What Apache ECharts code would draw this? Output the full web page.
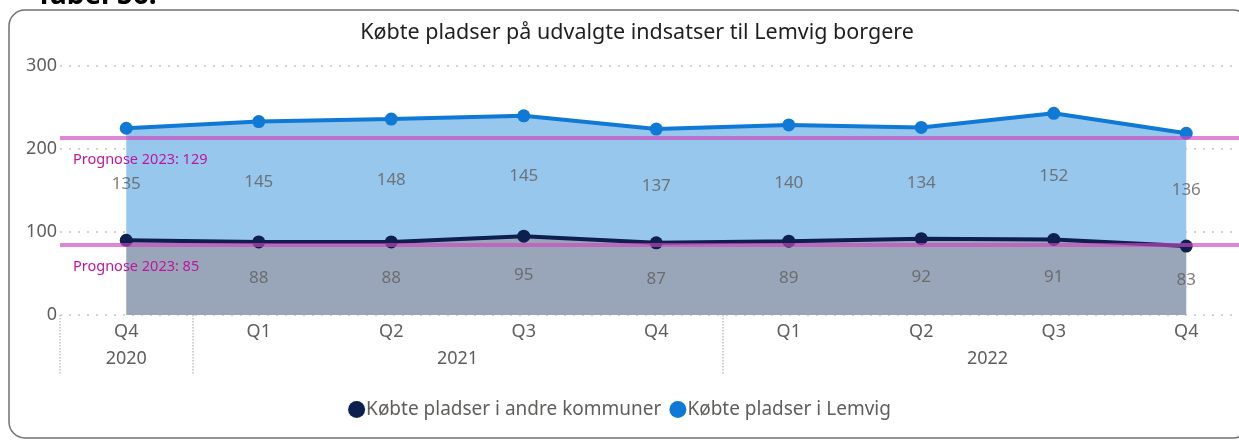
<!DOCTYPE html>
<html>
<head>
<meta charset="utf-8">
<script src="https://cdn.jsdelivr.net/npm/echarts@6/dist/echarts.min.js"></script>
<style>
  html, body { margin: 0; padding: 0; background: #fff; }
  #chart { width: 1239px; height: 441px; }
</style>
</head>
<body>
<div id="chart"></div>
<script>
// kvartaler og år
const quarters = ['Q4', 'Q1', 'Q2', 'Q3', 'Q4', 'Q1', 'Q2', 'Q3', 'Q4'];
const quarterYears = ['2020', '2021', '2021', '2021', '2021', '2022', '2022', '2022', '2022'];
// købte pladser
const andreKommuner = [90, 88, 88, 95, 87, 89, 92, 91, 83];
const lemvig = [135, 145, 148, 145, 137, 140, 134, 152, 136];
// prognoser 2023 (andre kommuner, Lemvig)
const prognose = [85, 129];
const yTicks = [0, 100, 200, 300];

const grey = '#605e5c';
const font = 'Noto Sans';

// year axis works in half-band slots: category i sits at slot 2i+1
const slots = new Array(quarters.length * 2 + 1).fill('');
const sepSlots = [];
quarterYears.forEach((y, i) => {
  if (i === 0 || quarterYears[i - 1] !== y) sepSlots.push(2 * i);
});
quarterYears.forEach((y, i) => {
  if (i === quarterYears.length - 1 || quarterYears[i + 1] !== y) {
    const first = quarterYears.indexOf(y);
    slots[first + i + 1] = y;
  }
});

const cats = quarters.map((q, i) => quarterYears[i] + ' ' + q);
const midAndre = andreKommuner.map((v, i) => [i, v / 2]);
const midLemvig = lemvig.map((v, i) => [i, andreKommuner[i] + v / 2]);

const chart = echarts.init(document.getElementById('chart'));
chart.setOption({
  animation: false,
  title: {
    text: 'Købte pladser på udvalgte indsatser til Lemvig borgere',
    left: 632, top: 17, textAlign: 'center',
    textStyle: { fontFamily: 'Noto Sans', fontSize: 21.5, fontWeight: 'normal', color: '#1f1f1f' }
  },
  graphic: [
    { type: 'rect', shape: { x: 9, y: 10, width: 1240, height: 428, r: 16 },
      style: { fill: 'none', stroke: '#707070', lineWidth: 1.5 }, silent: true },
    { type: 'text', left: 36, top: -18,
      style: { text: 'Tabel 56.', fontFamily: 'Noto Sans', fontSize: 28, fontWeight: 'bold', fill: '#000' } }
  ],
  legend: {
    bottom: 17, left: 'center',
    data: ['Købte pladser i andre kommuner', 'Købte pladser i Lemvig'],
    icon: 'circle', itemWidth: 17, itemHeight: 17, itemGap: 8,
    textStyle: { fontFamily: font, fontSize: 19, color: grey, padding: [0, 0, 0, -4] }
  },
  grid: { left: 60, top: 66, bottom: 126, width: 1192.5, outerBoundsMode: 'none', containLabel: false },
  xAxis: [{
    type: 'category', data: cats, boundaryGap: true,
    axisLine: { show: false }, axisTick: { show: false },
    axisLabel: { interval: 0, margin: 8, fontFamily: font, fontSize: 18, color: grey,
      formatter: v => v.split(' ')[1] }
  }, {
    type: 'category', data: slots, boundaryGap: false, position: 'bottom',
    axisLine: { show: false },
    axisTick: { show: true, length: 60, interval: i => sepSlots.includes(i),
      lineStyle: { type: 'dotted', color: '#c0c0c0', width: 1.5 } },
    axisLabel: { interval: 0, margin: 35, fontFamily: font, fontSize: 18, color: grey }
  }],
  yAxis: {
    type: 'value', min: yTicks[0], max: yTicks[yTicks.length - 1], interval: 100,
    axisLabel: { margin: 3, fontFamily: font, fontSize: 18, color: grey },
    splitLine: { lineStyle: { type: [2, 7], color: '#c4c4c4', width: 1.5 } }
  },
  series: [{
    name: 'Købte pladser i andre kommuner', type: 'line', stack: 'total',
    data: andreKommuner, symbol: 'circle', symbolSize: 13,
    itemStyle: { color: '#0c1f4f' },
    lineStyle: { color: '#0c1f4f', width: 4 },
    areaStyle: { color: '#99a6ba', opacity: 1 },
    z: 3
  }, {
    name: 'Købte pladser i Lemvig', type: 'line', stack: 'total',
    data: lemvig, symbol: 'circle', symbolSize: 13,
    itemStyle: { color: '#1079d6' },
    lineStyle: { color: '#1079d6', width: 4 },
    areaStyle: { color: '#98c7ee', opacity: 1 },
    z: 2,
    markLine: {
      silent: true, symbol: 'none', animation: false,
      lineStyle: { type: 'solid', color: 'rgba(206,70,190,0.65)', width: 4 },
      label: { position: 'insideStartBottom', distance: [13, 15], fontFamily: font, fontSize: 14.5, color: '#c0159e' },
      data: [
        { yAxis: prognose[0] + prognose[1], label: { formatter: 'Prognose 2023: ' + prognose[1] } },
        { yAxis: prognose[0], label: { formatter: 'Prognose 2023: ' + prognose[0] } }
      ]
    }
  }, {
    type: 'scatter', data: midAndre, symbolSize: 0, silent: true, z: 4,
    label: { show: true, position: 'inside', fontFamily: font, fontSize: 17, color: grey,
      formatter: p => p.dataIndex === 0 ? '' : andreKommuner[p.dataIndex] }
  }, {
    type: 'scatter', data: midLemvig, symbolSize: 0, silent: true, z: 4,
    label: { show: true, position: 'inside', fontFamily: font, fontSize: 17, color: grey,
      formatter: p => lemvig[p.dataIndex] }
  }]
});
</script>
</body>
</html>
